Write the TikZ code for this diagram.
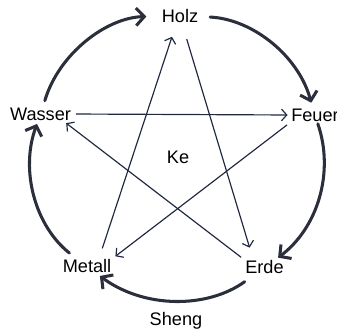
\documentclass[tikz,border=0pt]{standalone}
\usepackage{fontspec}
\setmainfont{Liberation Sans}
\usepackage{tikz}
\usetikzlibrary{arrows.meta,positioning}
\definecolor{inkgray}{HTML}{2B2E3B}
\definecolor{inkblue}{HTML}{1F2840}

\begin{document}
\begin{tikzpicture}[
  elem/.style={inner sep=1pt,font=\fontsize{15.5pt}{18pt}\selectfont,text=black},
  sheng/.style={-{Straight Barb[length=7pt,width=15pt]},line width=2.6pt,
                color=inkgray,line cap=round,bend left=36,looseness=0.94},
  ke/.style={-{Straight Barb[length=4.5pt,width=10pt]},line width=1pt,color=inkblue},
  x=1cm,y=1cm
]
\useasboundingbox (-5.34,-5.16) rectangle (4.77,4.71);

\node[elem] (Holz)   at (0.06, 4.215)  {Holz};
\node[elem] (Feuer)  at (4.11, 1.26)   {Feuer};
\node[elem] (Erde)   at (2.595,-3.315) {Erde};
\node[elem] (Metall) at (-2.73,-3.285) {Metall};
\node[elem] (Wasser) at (-4.125,1.29)  {Wasser};
\node[elem] (Ke)     at (0,0)          {Ke};
\node[elem] (Sheng)  at (-0.06,-4.92)  {Sheng};

% Sheng: outer cycle
\draw[sheng,shorten <=5pt,shorten >=12pt] (Wasser) to (Holz);
\draw[sheng,shorten <=9pt,shorten >=4pt]  (Holz)   to (Feuer);
\draw[sheng,shorten <=1pt,shorten >=2.5pt] (Feuer) to (Erde);
\draw[sheng,shorten <=9pt,shorten >=2pt]  (Erde)   to (Metall);
\draw[sheng,shorten <=7.5pt,shorten >=2pt] (Metall) to (Wasser);

% Ke: inner star
\draw[ke,shorten <=3pt,shorten >=2pt] (Wasser.east) -- (Feuer.west);
\draw[ke,shorten <=3pt,shorten >=3pt] (Feuer.south west) -- (Metall.north east);
\draw[ke,shorten <=9pt,shorten >=11pt]
  ([xshift=0.36cm]Metall.north) -- ([xshift=-0.12cm]Holz.south);
\draw[ke,shorten <=13pt,shorten >=10.5pt]
  ([xshift=0.07cm]Holz.south) -- ([xshift=-0.34cm]Erde.north);
\draw[ke,shorten <=3pt,shorten >=2pt]
  (Erde.north west) -- ([xshift=-0.24cm]Wasser.south east);
\end{tikzpicture}
\end{document}
